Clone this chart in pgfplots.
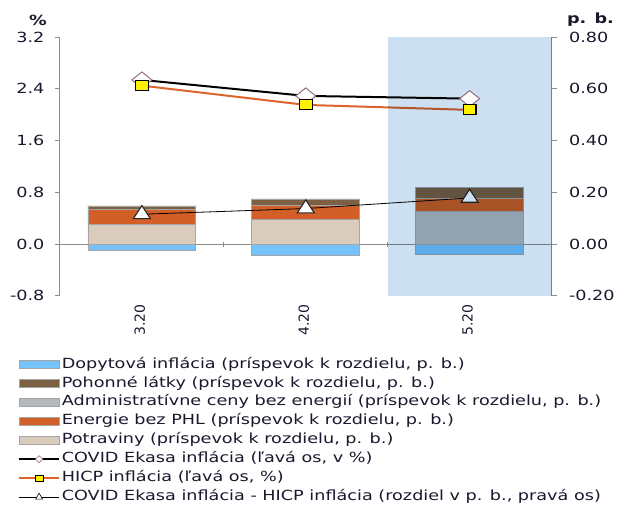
\documentclass[border=0pt]{standalone}
\usepackage{pgfplots}
\pgfplotsset{compat=1.18}
\usepackage{fontspec}
\setmainfont{DejaVu Sans}[FakeStretch=1.26]
\newfontfamily\plainfont{DejaVu Sans}

\definecolor{dopyt}{RGB}{117,195,250}
\definecolor{pohon}{RGB}{123,96,68}
\definecolor{admin}{RGB}{182,185,187}
\definecolor{energ}{RGB}{210,95,40}
\definecolor{potrav}{RGB}{217,204,189}
\definecolor{hicp}{RGB}{222,100,45}
\definecolor{mauve}{RGB}{150,110,125}
\definecolor{axgrey}{RGB}{140,140,140}
\definecolor{barline}{RGB}{165,165,165}
\definecolor{shade}{RGB}{205,224,241}
\definecolor{txt}{RGB}{25,25,45}

\pgfplotsset{
  base/.style={scale only axis, width=492pt, height=259pt,
    xmin=-0.5, xmax=2.5, tick align=outside,
    axis line style={axgrey, line width=0.9pt},
    tick style={axgrey, line width=0.9pt}, major tick length=5pt,
    ticklabel style={font=\fontsize{14}{16}\selectfont, text=txt},
    /pgf/number format/assume math mode=true},
  rightax/.style={base, ymin=-0.2, ymax=0.8},
}

\begin{document}
\begin{tikzpicture}

% negative contribution (demand inflation)
\begin{axis}[rightax, hide axis, ybar, bar width=108pt]
\addplot[fill=dopyt, draw=barline, line width=0.8pt] coordinates {(0,-0.026) (1,-0.043) (2,-0.040)};
\end{axis}

% positive contributions, right axis, zero line
\begin{axis}[rightax, ybar stacked, bar width=108pt,
  axis y line*=right, axis x line=middle, x axis line style={-},
  xtick={0.5,1.5}, xticklabels={,}, xtick style={axgrey},
  ytick={-0.2,0,0.2,0.4,0.6,0.8},
  yticklabel style={xshift=9pt, /pgf/number format/.cd, fixed, fixed zerofill, precision=2}]
\addplot[fill=potrav, draw=barline, line width=0.8pt] coordinates {(0,0.076) (1,0.094) (2,0.0)};
\addplot[fill=admin, draw=barline, line width=0.8pt] coordinates {(0,0.0) (1,0.0) (2,0.126)};
\addplot[fill=energ, draw=barline, line width=0.8pt] coordinates {(0,0.058) (1,0.054) (2,0.052)};
\addplot[fill=pohon, draw=barline, line width=0.8pt] coordinates {(0,0.013) (1,0.026) (2,0.040)};
\end{axis}

% difference line
\begin{axis}[rightax, hide axis]
\addplot[black, line width=0.8pt, mark=triangle*, mark size=8.7pt,
  mark options={fill=white, draw=black!85, line width=1.1pt, xscale=1.13}]
  coordinates {(0,0.115) (1,0.137) (2,0.178)};
\end{axis}

% left axis, inflation lines, shading, legend
\begin{axis}[base, ymin=-0.8, ymax=3.2,
  ytick={-0.8,0,0.8,1.6,2.4,3.2},
  axis y line*=left, axis x line*=bottom, x axis line style={draw=none},
  xtick={0,1,2}, xticklabels={3.20,4.20,5.20}, xtick style={draw=none},
  xticklabel style={rotate=90, anchor=east, yshift=2pt, font=\plainfont\fontsize{14}{16}\selectfont},
  yticklabel style={xshift=-7pt, /pgf/number format/.cd, fixed, fixed zerofill, precision=1},
  legend style={at={(-0.085,-0.236)}, anchor=north west, draw=none, fill=none,
    inner sep=0pt, font=\fontsize{14}{16}\selectfont, text=txt, row sep=4.5pt,
    nodes={inner ysep=0pt, text height=11pt, text depth=3.5pt}},
  legend cell align=left]
\addlegendimage{legend image code/.code={\draw[fill=dopyt, draw=barline] (0pt,-4pt) rectangle (40pt,4pt);}}
\addlegendentry{Dopytová inflácia (príspevok k rozdielu, p. b.)}
\addlegendimage{legend image code/.code={\draw[fill=pohon, draw=barline] (0pt,-4pt) rectangle (40pt,4pt);}}
\addlegendentry{Pohonné látky (príspevok k rozdielu, p. b.)}
\addlegendimage{legend image code/.code={\draw[fill=admin, draw=barline] (0pt,-4pt) rectangle (40pt,4pt);}}
\addlegendentry{Administratívne ceny bez energií (príspevok k rozdielu, p. b.)}
\addlegendimage{legend image code/.code={\draw[fill=energ, draw=barline] (0pt,-4pt) rectangle (40pt,4pt);}}
\addlegendentry{Energie bez PHL (príspevok k rozdielu, p. b.)}
\addlegendimage{legend image code/.code={\draw[fill=potrav, draw=barline] (0pt,-4pt) rectangle (40pt,4pt);}}
\addlegendentry{Potraviny (príspevok k rozdielu, p. b.)}
\addlegendimage{legend image code/.code={\draw[black, line width=1.5pt] (0pt,0pt) -- (40pt,0pt);
  \draw[mark=diamond*, mark size=3.5pt, mark options={fill=white, draw=mauve, line width=0.6pt, xscale=1.4}] plot coordinates {(20pt,0pt)};}}
\addlegendentry{COVID Ekasa inflácia (ľavá os, v \%)}
\addlegendimage{legend image code/.code={\draw[hicp, line width=1.5pt] (0pt,0pt) -- (40pt,0pt);
  \draw[mark=square*, mark size=3.2pt, mark options={fill=yellow, draw=black, line width=0.7pt, xscale=1.25}] plot coordinates {(20pt,0pt)};}}
\addlegendentry{HICP inflácia (ľavá os, \%)}
\addlegendimage{legend image code/.code={\draw[black, line width=0.7pt] (0pt,0pt) -- (40pt,0pt);
  \draw[mark=triangle*, mark size=4pt, mark options={fill=white, draw=black, line width=0.6pt}] plot coordinates {(20pt,0pt)};}}
\addlegendentry{COVID Ekasa inflácia - HICP inflácia (rozdiel v p. b., pravá os)}

\addplot[forget plot, black, line width=2pt, mark=diamond*, mark size=8pt,
  mark options={fill=white, draw=mauve, line width=1pt, xscale=1.67}]
  coordinates {(0,2.536) (1,2.289) (2,2.247)};
\addplot[forget plot, hicp, line width=2pt, mark=square*, mark size=5pt,
  mark options={fill=yellow, draw=black, line width=1.1pt, xscale=1.27}]
  coordinates {(0,2.448) (1,2.150) (2,2.073)};
\addplot[forget plot, fill=shade, draw=none, blend mode=multiply]
  coordinates {(1.5,-0.8) (1.5,3.2) (2.5,3.2) (2.5,-0.8)} -- cycle;
\coordinate (o) at (rel axis cs:0,0);
\end{axis}

\path (o) ++(-60pt,-208pt) rectangle ++(618pt,504pt);
\node[font=\bfseries\fontsize{14}{16}\selectfont, text=txt] at ([shift={(-22pt,276pt)}]o) {\%};
\node[font=\bfseries\fontsize{14}{16}\selectfont, text=txt] at ([shift={(531pt,276pt)}]o) {p. b.};
\end{tikzpicture}
\end{document}
